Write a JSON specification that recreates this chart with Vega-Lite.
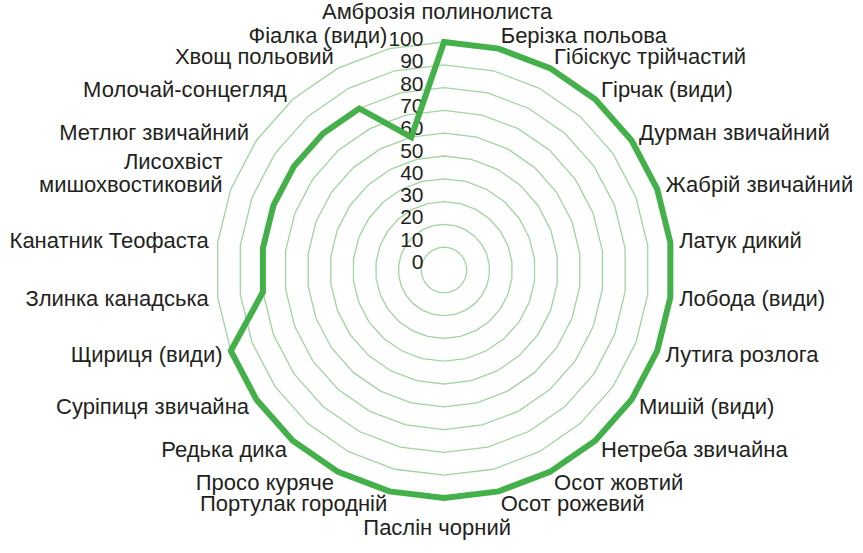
{
  "$schema": "https://vega.github.io/schema/vega-lite/v6.json",
  "width": 863,
  "height": 553,
  "padding": 0,
  "autosize": {"type": "none"},
  "background": "white",
  "config": {"view": {"stroke": null}, "text": {"font": "Liberation Sans", "color": "#231f20"}},
  "datasets": {
    "weeds": [
      {"c": "Амброзія полинолиста", "v": 100},
      {"c": "Берізка польова", "v": 100},
      {"c": "Гібіскус трійчастий", "v": 100},
      {"c": "Гірчак (види)", "v": 100},
      {"c": "Дурман звичайний", "v": 100},
      {"c": "Жабрій звичайний", "v": 100},
      {"c": "Латук дикий", "v": 100},
      {"c": "Лобода (види)", "v": 100},
      {"c": "Лутига розлога", "v": 100},
      {"c": "Мишій (види)", "v": 100},
      {"c": "Нетреба звичайна", "v": 100},
      {"c": "Осот жовтий", "v": 100},
      {"c": "Осот рожевий", "v": 100},
      {"c": "Паслін чорний", "v": 100},
      {"c": "Портулак городній", "v": 100},
      {"c": "Просо куряче", "v": 100},
      {"c": "Редька дика", "v": 100},
      {"c": "Суріпиця звичайна", "v": 100},
      {"c": "Щириця (види)", "v": 100},
      {"c": "Злинка канадська", "v": 80},
      {"c": "Канатник Теофаста", "v": 80},
      {"c": "Лисохвіст\nмишохвостиковий", "v": 80},
      {"c": "Метлюг звичайний", "v": 80},
      {"c": "Молочай-сонцегляд", "v": 80},
      {"c": "Хвощ польовий", "v": 80},
      {"c": "Фіалка (види)", "v": 60}
    ],
    "rings": [
      {"r": 10, "i": [0,1,2,3,4,5,6,7,8,9,10,11,12,13,14,15,16,17,18,19,20,21,22,23,24,25]},
      {"r": 20, "i": [0,1,2,3,4,5,6,7,8,9,10,11,12,13,14,15,16,17,18,19,20,21,22,23,24,25]},
      {"r": 30, "i": [0,1,2,3,4,5,6,7,8,9,10,11,12,13,14,15,16,17,18,19,20,21,22,23,24,25]},
      {"r": 40, "i": [0,1,2,3,4,5,6,7,8,9,10,11,12,13,14,15,16,17,18,19,20,21,22,23,24,25]},
      {"r": 50, "i": [0,1,2,3,4,5,6,7,8,9,10,11,12,13,14,15,16,17,18,19,20,21,22,23,24,25]},
      {"r": 60, "i": [0,1,2,3,4,5,6,7,8,9,10,11,12,13,14,15,16,17,18,19,20,21,22,23,24,25]},
      {"r": 70, "i": [0,1,2,3,4,5,6,7,8,9,10,11,12,13,14,15,16,17,18,19,20,21,22,23,24,25]},
      {"r": 80, "i": [0,1,2,3,4,5,6,7,8,9,10,11,12,13,14,15,16,17,18,19,20,21,22,23,24,25]},
      {"r": 90, "i": [0,1,2,3,4,5,6,7,8,9,10,11,12,13,14,15,16,17,18,19,20,21,22,23,24,25]},
      {"r": 100, "i": [0,1,2,3,4,5,6,7,8,9,10,11,12,13,14,15,16,17,18,19,20,21,22,23,24,25]}
    ],
    "ticks": [
      {"t": 0}, {"t": 10}, {"t": 20}, {"t": 30}, {"t": 40}, {"t": 50},
      {"t": 60}, {"t": 70}, {"t": 80}, {"t": 90}, {"t": 100}
    ]
  },
  "layer": [
    {
      "data": {"name": "rings"},
      "transform": [
        {"flatten": ["i"]},
        {"calculate": "datum.i * 2 * PI / 26", "as": "a"},
        {"calculate": "datum.r * sin(datum.a)", "as": "x"},
        {"calculate": "datum.r * cos(datum.a)", "as": "y"}
      ],
      "mark": {"type": "line", "interpolate": "linear-closed", "stroke": "#a0d4a0", "strokeWidth": 1.3},
      "encoding": {
        "x": {"field": "x", "type": "quantitative", "scale": {"domain": [-194.74, 183.77], "nice": false, "zero": false}, "axis": null},
        "y": {"field": "y", "type": "quantitative", "scale": {"domain": [-124.12, 118.42], "nice": false, "zero": false}, "axis": null},
        "detail": {"field": "r", "type": "nominal"},
        "order": {"field": "i", "type": "quantitative"}
      }
    },
    {
      "data": {"name": "ticks"},
      "transform": [
        {"calculate": "-9.0", "as": "x"},
        {"calculate": "0.978 * datum.t + 3.07", "as": "y"}
      ],
      "mark": {"type": "text", "align": "right", "baseline": "middle", "fontSize": 21},
      "encoding": {
        "x": {"field": "x", "type": "quantitative", "scale": {"domain": [-194.74, 183.77], "nice": false, "zero": false}, "axis": null},
        "y": {"field": "y", "type": "quantitative", "scale": {"domain": [-124.12, 118.42], "nice": false, "zero": false}, "axis": null},
        "text": {"field": "t", "type": "quantitative"}
      }
    },
    {
      "data": {"name": "weeds"},
      "transform": [
        {"window": [{"op": "row_number", "as": "n"}]},
        {"calculate": "(datum.n - 1) * 2 * PI / 26", "as": "a"},
        {"calculate": "datum.v * sin(datum.a)", "as": "x"},
        {"calculate": "datum.v * cos(datum.a)", "as": "y"}
      ],
      "mark": {"type": "line", "interpolate": "linear-closed", "stroke": "#44b04a", "strokeWidth": 6, "strokeJoin": "miter"},
      "encoding": {
        "x": {"field": "x", "type": "quantitative", "scale": {"domain": [-194.74, 183.77], "nice": false, "zero": false}, "axis": null},
        "y": {"field": "y", "type": "quantitative", "scale": {"domain": [-124.12, 118.42], "nice": false, "zero": false}, "axis": null},
        "order": {"field": "n", "type": "quantitative"}
      }
    },
    {
      "data": {"name": "weeds"},
      "transform": [
        {"window": [{"op": "row_number", "as": "n"}]},
        {"calculate": "(datum.n - 1) * 2 * PI / 26", "as": "a"},
        {"calculate": "sin(datum.a)", "as": "s"},
        {"filter": "datum.s > 0.1"},
        {"calculate": "103.9 * sin(datum.a)", "as": "x"},
        {"calculate": "105.7 * cos(datum.a)", "as": "y"}
      ],
      "mark": {"type": "text", "align": "left", "baseline": "middle", "fontSize": 22},
      "encoding": {
        "x": {"field": "x", "type": "quantitative", "scale": {"domain": [-194.74, 183.77], "nice": false, "zero": false}, "axis": null},
        "y": {"field": "y", "type": "quantitative", "scale": {"domain": [-124.12, 118.42], "nice": false, "zero": false}, "axis": null},
        "text": {"field": "c", "type": "nominal"}
      }
    },
    {
      "data": {"name": "weeds"},
      "transform": [
        {"window": [{"op": "row_number", "as": "n"}]},
        {"calculate": "(datum.n - 1) * 2 * PI / 26", "as": "a"},
        {"calculate": "sin(datum.a)", "as": "s"},
        {"filter": "datum.s < -0.1 && indexof(datum.c, '\\n') < 0"},
        {"calculate": "103.9 * sin(datum.a)", "as": "x"},
        {"calculate": "105.7 * cos(datum.a)", "as": "y"}
      ],
      "mark": {"type": "text", "align": "right", "baseline": "middle", "fontSize": 22},
      "encoding": {
        "x": {"field": "x", "type": "quantitative", "scale": {"domain": [-194.74, 183.77], "nice": false, "zero": false}, "axis": null},
        "y": {"field": "y", "type": "quantitative", "scale": {"domain": [-124.12, 118.42], "nice": false, "zero": false}, "axis": null},
        "text": {"field": "c", "type": "nominal"}
      }
    },
    {
      "data": {"name": "weeds"},
      "transform": [
        {"window": [{"op": "row_number", "as": "n"}]},
        {"calculate": "(datum.n - 1) * 2 * PI / 26", "as": "a"},
        {"filter": "indexof(datum.c, '\\n') >= 0"},
        {"calculate": "103.9 * sin(datum.a)", "as": "x"},
        {"calculate": "105.7 * cos(datum.a)", "as": "y"}
      ],
      "mark": {"type": "text", "align": "right", "baseline": "middle", "fontSize": 22, "lineBreak": "\n", "lineHeight": 23, "dy": -23},
      "encoding": {
        "x": {"field": "x", "type": "quantitative", "scale": {"domain": [-194.74, 183.77], "nice": false, "zero": false}, "axis": null},
        "y": {"field": "y", "type": "quantitative", "scale": {"domain": [-124.12, 118.42], "nice": false, "zero": false}, "axis": null},
        "text": {"field": "c", "type": "nominal"}
      }
    },
    {
      "data": {"name": "weeds"},
      "transform": [
        {"window": [{"op": "row_number", "as": "n"}]},
        {"calculate": "(datum.n - 1) * 2 * PI / 26", "as": "a"},
        {"calculate": "sin(datum.a)", "as": "s"},
        {"filter": "abs(datum.s) <= 0.1"},
        {"calculate": "113 * sin(datum.a) - 3", "as": "x"},
        {"calculate": "113 * cos(datum.a)", "as": "y"}
      ],
      "mark": {"type": "text", "align": "center", "baseline": "middle", "fontSize": 22},
      "encoding": {
        "x": {"field": "x", "type": "quantitative", "scale": {"domain": [-194.74, 183.77], "nice": false, "zero": false}, "axis": null},
        "y": {"field": "y", "type": "quantitative", "scale": {"domain": [-124.12, 118.42], "nice": false, "zero": false}, "axis": null},
        "text": {"field": "c", "type": "nominal"}
      }
    }
  ]
}
